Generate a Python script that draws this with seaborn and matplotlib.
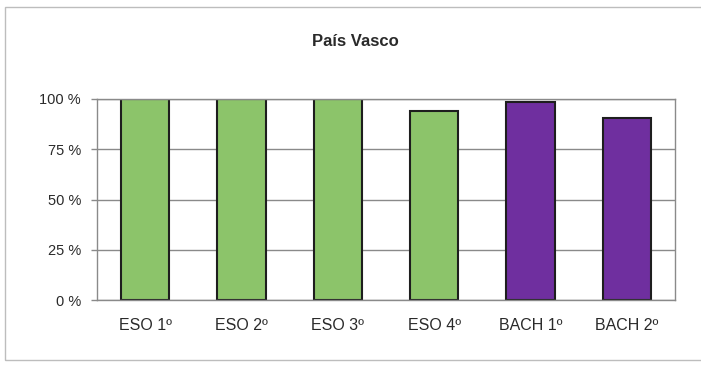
import matplotlib
matplotlib.use("Agg")
import matplotlib.pyplot as plt
import seaborn as sns
import pandas as pd
from matplotlib.patches import Rectangle

categories = ["ESO 1º", "ESO 2º", "ESO 3º", "ESO 4º", "BACH 1º", "BACH 2º"]
values = [100, 100, 100, 94, 98.5, 90.5]
bar_colors = ["#8cc46a", "#8cc46a", "#8cc46a", "#8cc46a", "#6f2f9f", "#6f2f9f"]
yticks = [0, 25, 50, 75, 100]
ytick_labels = ["0 %", "25 %", "50 %", "75 %", "100 %"]
title = "País Vasco"

sns.set_theme(style="white")
plt.rcParams["font.family"] = ["Liberation Sans", "DejaVu Sans"]

df = pd.DataFrame({"cat": categories, "val": values})

fig = plt.figure(figsize=(7.01, 3.67), dpi=100)
fig.patch.set_facecolor("white")
ax = fig.add_axes([97/701, 1-300/367, (675-97)/701, (300-99)/367])

sns.barplot(data=df, x="cat", y="val", hue="cat", palette=bar_colors,
            width=0.5, legend=False, ax=ax, edgecolor="#1e1e1e", linewidth=1.5,
            saturation=1)

ax.set_ylim(0, 100)
ax.set_xlim(-0.5, len(categories) - 0.5)
ax.set_yticks(yticks)
ax.set_yticklabels(ytick_labels)
ax.yaxis.grid(True, color="#8a8a8a", linewidth=1)
ax.set_axisbelow(True)
ax.set_xlabel("")
ax.set_ylabel("")
for s in ax.spines.values():
    s.set_color("#8a8a8a")
    s.set_linewidth(1)
ax.tick_params(axis="y", left=True, length=4, width=1, color="#8a8a8a",
               pad=7.5, labelsize=10.5, labelcolor="#2a2a2a")
ax.tick_params(axis="x", bottom=False, pad=7, labelsize=11.5, labelcolor="#2a2a2a")

fig.text(355/701, 1-42/367, title, ha="center", va="center",
         fontsize=12, fontweight="bold", color="#2a2a2a")

fig.patches.append(Rectangle((5/701, 1-360/367), 1.0, (360-7)/367,
                             transform=fig.transFigure, fill=False,
                             edgecolor="#bdbdbd", linewidth=1))

fig.savefig("out.png", dpi=100, facecolor="white")
